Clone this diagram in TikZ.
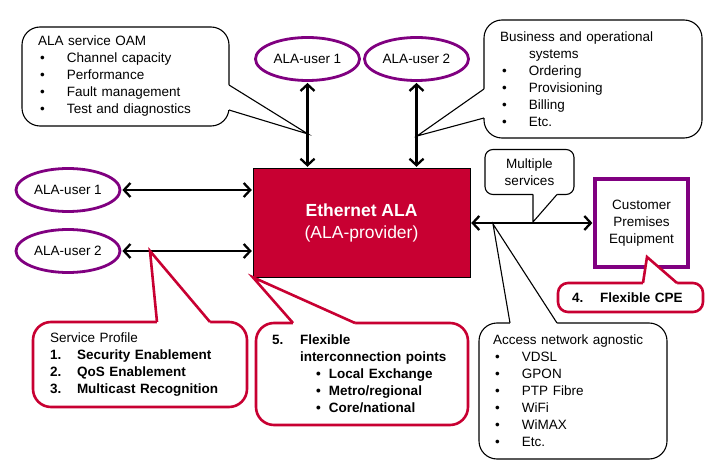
\documentclass[tikz,border=0pt]{standalone}
\usepackage{fontspec}
\setmainfont{Liberation Sans}
\usepackage{tikz}
\usetikzlibrary{calc,arrows.meta,shapes.geometric}
\definecolor{alared}{RGB}{200,0,50}
\definecolor{alapurple}{RGB}{128,0,128}
\newcommand{\alabullet}{\makebox[29pt][l]{\hspace{2pt}\textbullet}}
\tikzstyle{user}     = [ellipse, draw=alapurple, line width=2.8pt, minimum width=104pt, minimum height=43pt, inner sep=0pt]
\tikzstyle{provider} = [rectangle, draw=black, fill=alared, text=white, minimum width=217pt, minimum height=109pt, align=center, font=\fontsize{17.5}{22}\selectfont]
\tikzstyle{premises} = [rectangle, draw=alapurple, line width=3.2pt, minimum width=93pt, minimum height=88pt, align=center]
\tikzstyle{note}     = [rectangle, rounded corners=18pt, draw=black, fill=white, line width=1.1pt, align=left, inner ysep=0pt]
\tikzstyle{rednote}  = [note, draw=alared, line width=2.6pt, font=\fontsize{13.5}{17}\selectfont\bfseries]
\tikzstyle{pointer}  = [draw=black, line width=1.1pt]
\tikzstyle{redpointer} = [draw=alared, line width=2.6pt]
\tikzstyle{arrow}    = [line width=2.3pt, {Straight Barb[length=6.5pt,width=14pt]}-{Straight Barb[length=6.5pt,width=14pt]}, shorten <=1pt, shorten >=1pt]

\begin{document}
\begin{tikzpicture}[x=1pt, y=-1pt, every node/.style={font=\fontsize{13.5}{17}\selectfont}]
    \useasboundingbox (0,0) rectangle (715,473);

    % provider and users
    \node (ala) [provider] at (361.5,222.5) {\textbf{Ethernet ALA}\\(ALA-provider)};
    \node (topuser1) [user] at (307.5,59) {ALA-user 1};
    \node (topuser2) [user] at (416.5,59) {ALA-user 2};
    \node (user1) [user] at (68,190) {ALA-user 1};
    \node (user2) [user] at (68,251) {ALA-user 2};
    \node (cpe) [premises] at (641.5,223) {Customer\\Premises\\Equipment};

    \draw [arrow] (topuser1.south) -- (topuser1.south |- ala.north);
    \draw [arrow] (topuser2.south) -- (topuser2.south |- ala.north);
    \draw [arrow] (user1.east) -- (ala.west |- user1.east);
    \draw [arrow] (user2.east) -- (ala.west |- user2.east);
    \draw [arrow] (ala.east |- cpe.west) -- (cpe.west);

    % where the callouts point
    \coordinate (oamtip) at (308,134);
    \coordinate (biztip) at (417,136);
    \coordinate (multtip) at (533,222);
    \coordinate (accesstip) at (493,224);
    \coordinate (cpetip) at (647,257);
    \coordinate (proftip) at (150,251);
    \coordinate (flextip) at (ala.south west);

    % black callouts
    \node (oam) [note, text width=175pt, inner xsep=16pt, minimum height=99pt] at (125.5,76.5)
        {ALA service OAM\\
         \alabullet Channel capacity\\
         \alabullet Performance\\
         \alabullet Fault management\\
         \alabullet Test and diagnostics};
    \fill [white] (229,85) -- (oamtip) -- (229,110) -- (224,110) -- (224,85) -- cycle;
    \draw [pointer] (229,85) -- (oamtip) -- (229,110);

    \node (biz) [note, text width=186pt, inner xsep=16pt, minimum height=118pt] at (593,79)
        {Business and operational\\
         \hspace*{29pt}systems\\
         \alabullet Ordering\\
         \alabullet Provisioning\\
         \alabullet Billing\\
         \alabullet Etc.};
    \fill [white] (484,89) -- (biztip) -- (484,118) -- (489,118) -- (489,89) -- cycle;
    \draw [pointer] (484,89) -- (biztip) -- (484,118);

    \node (mult) [note, rounded corners=8pt, align=center, minimum width=89pt, minimum height=45pt] at (529.5,172)
        {Multiple\\services};
    \fill [white] (533,194.5) -- (multtip) -- (557,194.5) -- (557,190) -- (533,190) -- cycle;
    \draw [pointer] (533,194.5) -- (multtip) -- (557,194.5);

    \node (access) [note, text width=160pt, inner xsep=14pt, minimum height=136pt] at (573,391)
        {Access network agnostic\\
         \alabullet VDSL\\
         \alabullet GPON\\
         \alabullet PTP Fibre\\
         \alabullet WiFi\\
         \alabullet WiMAX\\
         \alabullet Etc.};
    \fill [white] (510,323) -- (accesstip) -- (557,323) -- (557,328) -- (510,328) -- cycle;
    \draw [pointer] (510,323) -- (accesstip) -- (557,323);

    % red callouts
    \node (flexcpe) [rednote, rounded corners=10pt, text width=117pt, inner xsep=14pt, minimum height=29pt] at (630.5,297.5)
        {\makebox[28pt][l]{4.}Flexible CPE};
    \fill [white] (643,283) -- (cpetip) -- (677,283) -- (677,288) -- (643,288) -- cycle;
    \draw [redpointer] (643,283) -- (cpetip) -- (677,283);

    \node (profile) [rednote, text width=180pt, inner xsep=17pt, minimum height=85pt] at (140,364.5)
        {\mdseries Service Profile\\ \bfseries
         \makebox[27pt][l]{1.}Security Enablement\\
         \makebox[27pt][l]{2.}QoS Enablement\\
         \makebox[27pt][l]{3.}Multicast Recognition};
    \fill [white] (157,322) -- (proftip) -- (210,322) -- (210,327) -- (157,327) -- cycle;
    \draw [redpointer] (157,322) -- (proftip) -- (210,322);

    \node (interconnect) [rednote, text width=180pt, inner xsep=16pt, minimum height=102pt] at (362,374)
        {\makebox[28pt][l]{5.}Flexible\\
         \hspace*{28pt}interconnection points\\
         \hspace*{44pt}\makebox[13pt][l]{\textbullet}Local Exchange\\
         \hspace*{44pt}\makebox[13pt][l]{\textbullet}Metro/regional\\
         \hspace*{44pt}\makebox[13pt][l]{\textbullet}Core/national};
    \fill [white] (293,323) -- (flextip) -- (355,323) -- (355,328) -- (293,328) -- cycle;
    \draw [redpointer] (293,323) -- (flextip) -- (355,323);
\end{tikzpicture}
\end{document}
